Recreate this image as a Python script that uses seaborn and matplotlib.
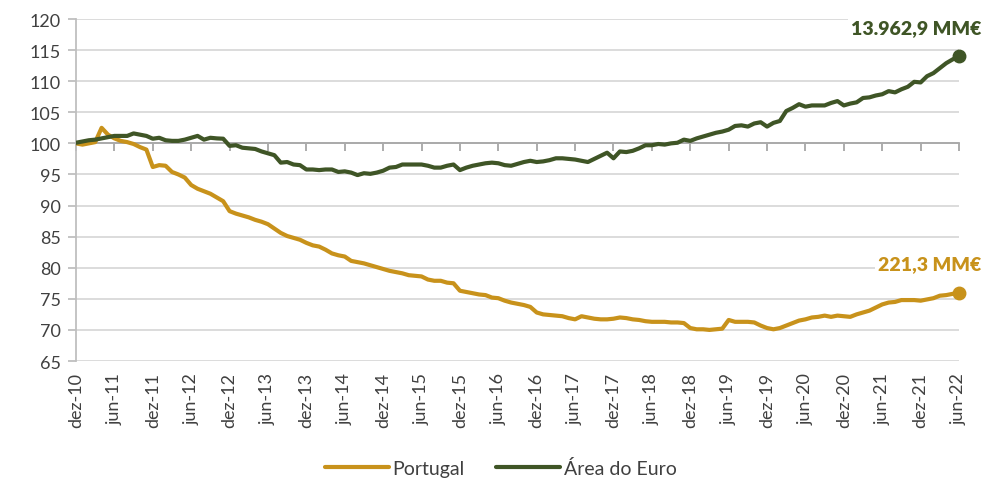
import numpy as np
import pandas as pd
import matplotlib
matplotlib.use("Agg")
import matplotlib.pyplot as plt
import seaborn as sns

# indice mensal (dez-10 = 100), dez-10 ... jun-22
portugal = [
    100.0, 99.8, 100.0, 100.2, 102.5, 101.4, 100.8, 100.4, 100.2, 99.9,
    99.4, 99.0, 96.2, 96.5, 96.4, 95.4, 95.0, 94.5, 93.3, 92.7,
    92.3, 91.9, 91.3, 90.7, 89.1, 88.7, 88.4, 88.1, 87.7, 87.4,
    87.0, 86.3, 85.6, 85.1, 84.8, 84.5, 84.0, 83.6, 83.4, 82.9,
    82.3, 82.0, 81.8, 81.1, 80.9, 80.7, 80.4, 80.1, 79.8, 79.5,
    79.3, 79.1, 78.8, 78.7, 78.6, 78.1, 77.9, 77.9, 77.6, 77.5,
    76.3, 76.1, 75.9, 75.7, 75.6, 75.2, 75.1, 74.7, 74.4, 74.2,
    74.0, 73.7, 72.8, 72.5, 72.4, 72.3, 72.2, 71.9, 71.7, 72.2,
    72.0, 71.8, 71.7, 71.7, 71.8, 72.0, 71.9, 71.7, 71.6, 71.4,
    71.3, 71.3, 71.3, 71.2, 71.2, 71.1, 70.3, 70.1, 70.1, 70.0,
    70.1, 70.2, 71.6, 71.3, 71.3, 71.3, 71.2, 70.7, 70.3, 70.1,
    70.3, 70.7, 71.1, 71.5, 71.7, 72.0, 72.1, 72.3, 72.1, 72.3,
    72.2, 72.1, 72.5, 72.8, 73.1, 73.6, 74.1, 74.4, 74.5, 74.8,
    74.8, 74.8, 74.7, 74.9, 75.1, 75.5, 75.6, 75.8, 76.0,
]
area_euro = [
    100.1, 100.3, 100.5, 100.6, 100.8, 101.0, 101.2, 101.2, 101.2, 101.6,
    101.4, 101.2, 100.75, 100.9, 100.5, 100.4, 100.4, 100.6, 100.9, 101.2,
    100.6, 100.9, 100.8, 100.75, 99.6, 99.7, 99.3, 99.2, 99.1, 98.7,
    98.4, 98.1, 96.9, 97.0, 96.6, 96.5, 95.8, 95.8, 95.7, 95.8,
    95.8, 95.4, 95.5, 95.3, 94.9, 95.2, 95.1, 95.3, 95.6, 96.1,
    96.2, 96.6, 96.6, 96.6, 96.6, 96.4, 96.1, 96.1, 96.4, 96.6,
    95.7, 96.1, 96.4, 96.6, 96.8, 96.9, 96.8, 96.5, 96.4, 96.7,
    97.0, 97.2, 97.0, 97.1, 97.3, 97.6, 97.6, 97.5, 97.4, 97.2,
    97.0, 97.5, 98.0, 98.5, 97.6, 98.7, 98.6, 98.8, 99.2, 99.7,
    99.7, 99.9, 99.8, 100.0, 100.1, 100.6, 100.4, 100.8, 101.1, 101.4,
    101.7, 101.9, 102.2, 102.8, 102.9, 102.7, 103.2, 103.4, 102.7, 103.3,
    103.6, 105.2, 105.7, 106.3, 105.9, 106.1, 106.1, 106.1, 106.5, 106.8,
    106.1, 106.4, 106.6, 107.3, 107.4, 107.7, 107.9, 108.4, 108.2, 108.7,
    109.1, 109.9, 109.8, 110.8, 111.3, 112.1, 112.9, 113.5, 114.0,
]
tick_labels = [
    "dez-10", "jun-11", "dez-11", "jun-12", "dez-12", "jun-13", "dez-13",
    "jun-14", "dez-14", "jun-15", "dez-15", "jun-16", "dez-16", "jun-17",
    "dez-17", "jun-18", "dez-18", "jun-19", "dez-19", "jun-20", "dez-20",
    "jun-21", "dez-21", "jun-22",
]
series_names = ["Portugal", "Área do Euro"]
end_labels = ["221,3 MM€", "13.962,9 MM€"]

gold = "#C8921B"
green = "#3F5526"
cores = [gold, green]

mes = np.arange(len(portugal))
df = pd.DataFrame({
    "mes": np.concatenate([mes, mes]),
    "valor": portugal + area_euro,
    "serie": [series_names[0]] * len(mes) + [series_names[1]] * len(mes),
})

sns.set_style("white")
plt.rcParams["font.family"] = ["Lato", "DejaVu Sans"]

fig = plt.figure(figsize=(9.82, 4.81), dpi=100)
ax = fig.add_axes([0.0774, 0.2474, 0.8992, 0.711])

sns.lineplot(data=df, x="mes", y="valor", hue="serie", palette=cores,
             linewidth=3, ax=ax, legend=False, zorder=3)

ax.set_xlim(0, len(mes) - 1)
ax.set_ylim(65, 120)
ax.set_yticks(np.arange(65, 121, 5))
ax.yaxis.grid(True, color="#D9D9D9", linewidth=1.3)
ax.set_axisbelow(True)
ax.set_xlabel("")
ax.set_ylabel("")

for s in ["top", "right"]:
    ax.spines[s].set_visible(False)
ax.spines["left"].set_color("#BFBFBF")
ax.spines["left"].set_linewidth(1.3)
ax.spines["bottom"].set_position(("data", 100))
ax.spines["bottom"].set_color("#A6A6A6")
ax.spines["bottom"].set_linewidth(1.3)
ax.spines["bottom"].set_zorder(1)

tick_pos = mes[::6]
ax.set_xticks(tick_pos)
ax.tick_params(axis="x", bottom=True, direction="out", length=6, width=1.3,
               color="#A6A6A6", labelbottom=False)
ax.tick_params(axis="y", left=True, direction="out", length=6, width=1.3,
               color="#BFBFBF", labelsize=13, labelcolor="#404040", pad=5)

sec = ax.secondary_xaxis("bottom")
sec.set_xticks(tick_pos)
sec.set_xticklabels(tick_labels, rotation=90)
sec.tick_params(bottom=False, length=0, labelsize=13, labelcolor="#404040", pad=8)
sec.spines["bottom"].set_visible(False)

for vals, cor, lab in zip([portugal, area_euro], cores, end_labels):
    ax.plot(mes[-1], vals[-1], "o", color=cor, markersize=9, clip_on=False, zorder=5)
    ax.annotate(lab, xy=(mes[-1], vals[-1]), xytext=(16, 21),
                textcoords="offset points", ha="right", va="center",
                fontsize=14, fontweight="heavy", color=cor,
                bbox=dict(boxstyle="square,pad=0.15", fc="white", ec="none"),
                annotation_clip=False, zorder=6)

handles = [plt.Line2D([], [], color=c, linewidth=3) for c in cores]
fig.legend(handles, series_names, loc="lower center", bbox_to_anchor=(0.51, -0.03),
           ncol=2, frameon=False, fontsize=14, handlelength=3.3,
           handletextpad=0.2, columnspacing=1.6, labelcolor="#404040")

fig.savefig("out.png", dpi=100)
